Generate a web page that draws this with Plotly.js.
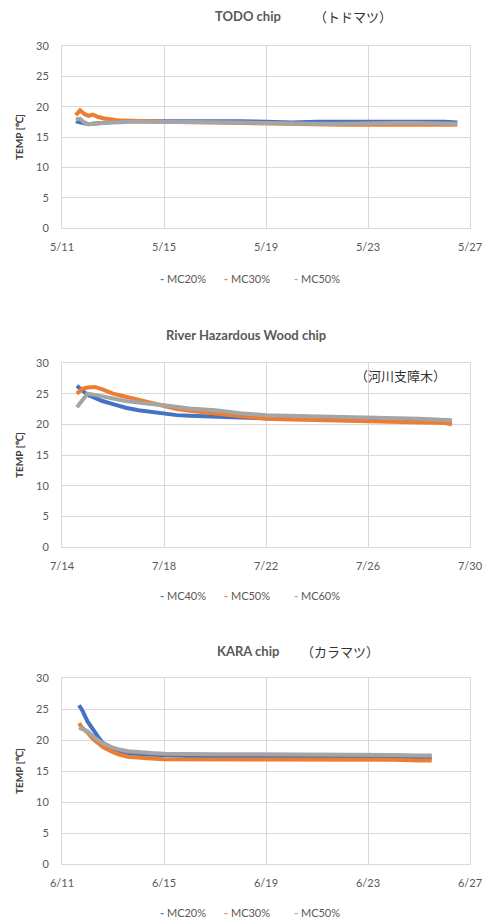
<!DOCTYPE html>
<html>
<head>
<meta charset="utf-8">
<script src="https://cdn.plot.ly/plotly-3.0.1.min.js"></script>
<style>html,body{margin:0;padding:0;background:#fff}#chart{width:487px;height:919px}</style>
</head>
<body>
<div id="chart"></div>
<script>
// ---------- DATA ----------
const seriesColors = ['#4472C4', '#ED7D31', '#A5A5A5'];

// Chart 1: TODO chip (トドマツ)
const todoTitle = 'TODO chip';
const todoJa = '（トドマツ）';
const todoNames = ['MC20%', 'MC30%', 'MC50%'];
const todoTimes = ['2020-05-11 13:00','2020-05-11 17:00','2020-05-11 21:00','2020-05-12 01:00','2020-05-12 05:00','2020-05-12 10:00','2020-05-12 15:00','2020-05-12 20:00','2020-05-13 02:00','2020-05-13 08:00','2020-05-13 16:00','2020-05-14 00:00','2020-05-14 12:00','2020-05-15 00:00','2020-05-15 12:00','2020-05-16 00:00','2020-05-17 00:00','2020-05-18 00:00','2020-05-19 00:00','2020-05-20 00:00','2020-05-21 00:00','2020-05-22 00:00','2020-05-23 00:00','2020-05-24 00:00','2020-05-25 00:00','2020-05-26 00:00','2020-05-26 12:00'];
const todoMC20 = [17.6,17.4,17.2,17.1,17.2,17.3,17.4,17.5,17.6,17.6,17.6,17.6,17.6,17.6,17.6,17.6,17.7,17.6,17.5,17.4,17.5,17.5,17.6,17.6,17.5,17.5,17.4];
const todoMC30 = [18.6,19.4,18.8,18.5,18.7,18.3,18.1,17.9,17.8,17.7,17.7,17.6,17.6,17.5,17.5,17.5,17.4,17.3,17.2,17.1,17.1,17.0,17.0,17.0,17.0,17.0,17.0];
const todoMC50 = [17.9,18.0,17.4,17.1,17.2,17.3,17.4,17.4,17.4,17.5,17.5,17.5,17.5,17.5,17.5,17.4,17.4,17.4,17.3,17.2,17.2,17.2,17.3,17.3,17.3,17.2,17.2];
const todoRange = ['2020-05-11', '2020-05-27'];
const todoTick0 = '2020-05-11';

// Chart 2: River Hazardous Wood chip (河川支障木)
const riverTitle = 'River Hazardous Wood chip';
const riverJa = '（河川支障木）';
const riverNames = ['MC40%', 'MC50%', 'MC60%'];
const riverTimes = ['2020-07-14 14:00','2020-07-14 19:00','2020-07-15 00:00','2020-07-15 07:00','2020-07-15 14:00','2020-07-16 00:00','2020-07-16 12:00','2020-07-17 00:00','2020-07-17 12:00','2020-07-18 00:00','2020-07-18 12:00','2020-07-19 00:00','2020-07-20 00:00','2020-07-21 00:00','2020-07-22 00:00','2020-07-23 00:00','2020-07-24 00:00','2020-07-25 00:00','2020-07-26 00:00','2020-07-27 00:00','2020-07-28 00:00','2020-07-29 00:00','2020-07-29 07:00'];
const riverMC40 = [26.3,25.5,24.8,24.3,23.8,23.3,22.7,22.3,22.0,21.7,21.5,21.4,21.2,21.1,21.0,21.0,21.0,20.9,20.9,20.8,20.8,20.7,20.6];
const riverMC50 = [25.0,25.8,26.0,26.1,25.7,25.0,24.5,24.0,23.4,22.9,22.5,22.2,21.8,21.3,20.9,20.8,20.7,20.6,20.5,20.5,20.4,20.2,20.0];
const riverMC60 = [22.8,23.8,25.0,24.8,24.5,24.2,23.8,23.5,23.3,23.1,22.8,22.6,22.3,21.8,21.5,21.4,21.4,21.3,21.2,21.0,20.9,20.7,20.6];
const riverRange = ['2020-07-14', '2020-07-30'];
const riverTick0 = '2020-07-14';

// Chart 3: KARA chip (カラマツ)
const karaTitle = 'KARA chip';
const karaJa = '（カラマツ）';
const karaNames = ['MC20%', 'MC30%', 'MC50%'];
const karaTimes = ['2020-06-11 16:00','2020-06-11 19:00','2020-06-12 00:00','2020-06-12 05:00','2020-06-12 10:00','2020-06-12 14:00','2020-06-12 22:00','2020-06-13 05:00','2020-06-13 14:00','2020-06-14 00:00','2020-06-14 12:00','2020-06-15 00:00','2020-06-16 00:00','2020-06-17 00:00','2020-06-18 00:00','2020-06-19 00:00','2020-06-20 00:00','2020-06-21 00:00','2020-06-22 00:00','2020-06-23 00:00','2020-06-24 00:00','2020-06-25 00:00','2020-06-25 12:00'];
const karaMC20 = [25.6,24.8,23.0,21.6,20.5,19.6,18.8,18.3,17.9,17.7,17.6,17.5,17.4,17.4,17.3,17.3,17.3,17.3,17.2,17.2,17.2,17.2,17.2];
const karaMC30 = [22.7,22.0,21.2,20.2,19.5,18.9,18.2,17.7,17.3,17.1,17.0,16.9,16.9,16.9,16.9,16.9,16.8,16.8,16.8,16.8,16.8,16.7,16.7];
const karaMC50 = [22.0,21.8,21.4,20.6,20.0,19.5,18.9,18.5,18.2,18.0,17.9,17.8,17.7,17.7,17.7,17.7,17.6,17.6,17.6,17.6,17.6,17.5,17.5];
const karaRange = ['2020-06-11', '2020-06-27'];
const karaTick0 = '2020-06-11';

const yTitle = 'TEMP [℃]';

// ---------- LAYOUT ----------
const W = 487, H = 919;
const px = x => x / W;
const py = y => 1 - y / H;
const FONT = 'Lato, "Open Sans", "Liberation Sans", sans-serif';
const JFONT = '"Noto Sans CJK JP", sans-serif';
const TXT = '#595959';
const GRID = '#d9d9d9';

const charts = [
  {title: todoTitle, ja: todoJa, names: todoNames, times: todoTimes, series: [todoMC20, todoMC30, todoMC50], range: todoRange, tick0: todoTick0,
   top: 46, bottom: 228, titleY: 16, titleX: 248, jaX: 353, jaY: 16, legY: 278},
  {title: riverTitle, ja: riverJa, names: riverNames, times: riverTimes, series: [riverMC40, riverMC50, riverMC60], range: riverRange, tick0: riverTick0,
   top: 363, bottom: 547, titleY: 335, titleX: 246, jaX: 400, jaY: 375, legY: 595},
  {title: karaTitle, ja: karaJa, names: karaNames, times: karaTimes, series: [karaMC20, karaMC30, karaMC50], range: karaRange, tick0: karaTick0,
   top: 678, bottom: 864, titleY: 651, titleX: 248, jaX: 340, jaY: 651, legY: 912}
];

const legendX = [158, 222, 292];

const traces = [];
const layout = {
  width: W, height: H,
  margin: {l: 0, r: 0, t: 0, b: 0},
  paper_bgcolor: '#fff', plot_bgcolor: '#fff',
  showlegend: false,
  font: {family: FONT, size: 11, color: TXT},
  annotations: []
};

charts.forEach((c, i) => {
  const sfx = i === 0 ? '' : String(i + 1);
  c.series.forEach((vals, j) => {
    traces.push({
      x: c.times, y: vals, name: c.names[j],
      xaxis: 'x' + sfx, yaxis: 'y' + sfx,
      type: 'scatter', mode: 'lines',
      line: {color: seriesColors[j], width: 4},
      showlegend: false
    });
  });
  layout['xaxis' + sfx] = {
    domain: [px(62), px(470)], anchor: 'y' + sfx,
    type: 'date', range: c.range, tick0: c.tick0, dtick: 4 * 86400000,
    tickformat: '%-m/%-d', showgrid: true, gridcolor: GRID, gridwidth: 1,
    showline: true, linecolor: GRID, linewidth: 1, mirror: true,
    zeroline: false, ticks: '', ticklabelstandoff: 9,
    tickfont: {family: FONT, size: 11, color: TXT}, fixedrange: true
  };
  layout['yaxis' + sfx] = {
    domain: [py(c.bottom), py(c.top)], anchor: 'x' + sfx,
    range: [0, 30], dtick: 5, tick0: 0,
    showgrid: true, gridcolor: GRID, gridwidth: 1,
    showline: true, linecolor: GRID, linewidth: 1, mirror: true,
    zeroline: false, ticks: '', ticklabelstandoff: 10,
    tickfont: {family: FONT, size: 11, color: TXT},
    title: {text: yTitle, font: {family: FONT, size: 10, color: '#404040', weight: 'bold'}, standoff: 10},
    fixedrange: true
  };
  layout.annotations.push({
    xref: 'paper', yref: 'paper', x: px(c.titleX), y: py(c.titleY),
    xanchor: 'center', yanchor: 'middle', showarrow: false,
    text: '<b>' + c.title + '</b>', font: {family: FONT, size: 13, color: TXT}
  });
  layout.annotations.push({
    xref: 'paper', yref: 'paper', x: px(c.jaX), y: py(c.jaY),
    xanchor: 'center', yanchor: 'middle', showarrow: false,
    text: c.ja, font: {family: JFONT, size: 13, color: '#333'}
  });
  c.names.forEach((n, j) => {
    layout.annotations.push({
      xref: 'paper', yref: 'paper', x: px(legendX[j]), y: py(c.legY),
      xanchor: 'left', yanchor: 'middle', showarrow: false,
      text: '<span style="color:' + seriesColors[j] + '"><b>-</b></span> ' + n,
      font: {family: FONT, size: 11, color: TXT}
    });
  });
});

Plotly.newPlot('chart', traces, layout, {staticPlot: true, displayModeBar: false});
</script>
</body>
</html>
